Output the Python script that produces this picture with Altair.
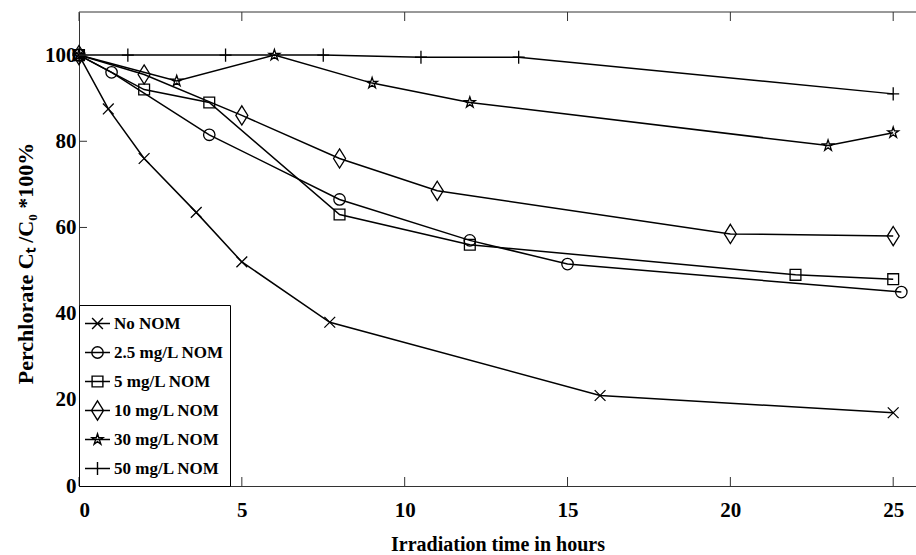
import math
import altair as alt
import pandas as pd

# ---- data: perchlorate remaining (%) vs irradiation time (h) ----
series_names = ["No NOM", "2.5 mg/L NOM", "5 mg/L NOM", "10 mg/L NOM", "30 mg/L NOM", "50 mg/L NOM"]

time_no_nom = [0, 0.9, 2, 3.6, 5, 7.7, 16, 25]
conc_no_nom = [100, 87.5, 76, 63.5, 52, 38, 21, 17]

time_nom_2_5 = [0, 1, 4, 8, 12, 15, 25.25]
conc_nom_2_5 = [100, 96, 81.5, 66.5, 57, 51.5, 45]

time_nom_5 = [0, 2, 4, 8, 12, 22, 25]
conc_nom_5 = [100, 92, 89, 63, 56, 49, 48]

time_nom_10 = [0, 2, 5, 8, 11, 20, 25]
conc_nom_10 = [100, 95.5, 86, 76, 68.5, 58.5, 58]

time_nom_30 = [0, 3, 6, 9, 12, 23, 25]
conc_nom_30 = [100, 94, 100, 93.5, 89, 79, 82]

time_nom_50 = [0, 1.5, 4.5, 7.5, 10.5, 13.5, 25]
conc_nom_50 = [100, 100, 100, 100, 99.5, 99.5, 91]

x_ticks = [0, 5, 10, 15, 20, 25]
y_ticks = [0, 20, 40, 60, 80, 100]

series_data = [
    (time_no_nom, conc_no_nom),
    (time_nom_2_5, conc_nom_2_5),
    (time_nom_5, conc_nom_5),
    (time_nom_10, conc_nom_10),
    (time_nom_30, conc_nom_30),
    (time_nom_50, conc_nom_50),
]

rows = []
for name, (ts, cs) in zip(series_names, series_data):
    for t, c in zip(ts, cs):
        rows.append({"series": name, "t": t, "c": c})
df = pd.DataFrame(rows)

# ---- geometry ----
W, H = 837, 474
X_MAX, Y_MAX = 25.7, 110
FONT = "Liberation Serif"


# ---- open marker outlines (unit coordinates, scaled by r) ----
def f(v):
    return f"{v:.3f}"


def cross(r):
    return f"M{f(-r)},{f(-r)}L{f(r)},{f(r)}M{f(-r)},{f(r)}L{f(r)},{f(-r)}"


def circle(r):
    return (f"M{f(r)},0A{f(r)},{f(r)},0,1,1,{f(-r)},0"
            f"A{f(r)},{f(r)},0,1,1,{f(r)},0Z")


def square(r):
    return f"M{f(-r)},{f(-r)}L{f(r)},{f(-r)}L{f(r)},{f(r)}L{f(-r)},{f(r)}Z"


def diamond(r):
    return f"M0,{f(-1.6 * r)}L{f(r)},0L0,{f(1.6 * r)}L{f(-r)},0Z"


def star(r):
    pts = []
    for i in range(10):
        rad = r if i % 2 == 0 else r * 0.382
        ang = math.radians(-90 + 36 * i)
        pts.append((rad * math.cos(ang), rad * math.sin(ang)))
    return "M" + "L".join(f"{f(x)},{f(y)}" for x, y in pts) + "Z"


def plus(r):
    return f"M{f(-r)},0L{f(r)},0M0,{f(-1.1 * r)}L0,{f(1.1 * r)}"


marker_makers = [(cross, 0.9), (circle, 0.95), (square, 0.9),
                 (diamond, 1.0), (star, 0.95), (plus, 1.0)]

POINT_SIZE = 144      # half-width 6 px per unit
LEGEND_SIZE = 625     # half-width 12.5 px per unit
shrink = 6 / 12.5

data_paths = [mk(r) for mk, r in marker_makers]
# legend symbols: a line segment through the marker; the two bare move-to
# points give every entry the same bounding box so rows are evenly spaced
legend_paths = ["M0,-0.7M0,0.7M-1,0L1,0" + mk(r * shrink) for mk, r in marker_makers]

axis_text = dict(labelFont=FONT, labelFontWeight="bold", labelColor="black",
                 titleFont=FONT, titleFontWeight="bold", titleColor="black",
                 domainColor="#333", domainWidth=1)

x_axis = alt.Axis(values=x_ticks, ticks=False, tickSize=0, grid=False,
                  labelPadding=13, labelFontSize=21, labelAngle=0,
                  title="Irradiation time in hours", titleFontSize=20,
                  titleBaseline="alphabetic", titleY=64, **axis_text)
y_axis = alt.Axis(values=y_ticks, ticks=False, tickSize=0, grid=False,
                  labelPadding=3, labelFontSize=21,
                  title="Perchlorate Cₜ /C₀ *100%", titleFontSize=22,
                  titleAngle=270, titleAlign="center", titleBaseline="alphabetic",
                  titleX=-47, titleY=251, **axis_text)


def x_enc():
    return alt.X("t:Q", scale=alt.Scale(domain=[0, X_MAX], nice=False, zero=False),
                 axis=x_axis)


def y_enc():
    return alt.Y("c:Q", scale=alt.Scale(domain=[0, Y_MAX], nice=False, zero=False),
                 axis=y_axis)


lines = alt.Chart(df).mark_line(color="black", strokeWidth=1.5).encode(
    x=x_enc(), y=y_enc(), detail="series:N", order="t:Q"
)

points = alt.Chart(df).mark_point(
    filled=False, color="black", strokeWidth=1.3, size=POINT_SIZE, opacity=1
).encode(
    x=x_enc(), y=y_enc(),
    shape=alt.Shape("series:N",
                    scale=alt.Scale(domain=series_names, range=data_paths),
                    legend=None),
)

legend_layer = alt.Chart(df).transform_filter("false").mark_point(
    filled=False, color="black"
).encode(
    shape=alt.Shape(
        "series:N",
        scale=alt.Scale(domain=series_names, range=legend_paths),
        legend=alt.Legend(
            title=None, orient="bottom-left", offset=0,
            symbolSize=LEGEND_SIZE, symbolStrokeColor="black",
            symbolFillColor="transparent", symbolStrokeWidth=1.4,
            symbolOpacity=1,
            labelFont=FONT, labelFontWeight="bold", labelFontSize=17,
            labelColor="black", labelOffset=3, labelLimit=300,
            strokeColor="black", fillColor="white", padding=5,
            rowPadding=3, cornerRadius=0,
        ),
    ),
)

xt = pd.DataFrame({"t": x_ticks})
yt = pd.DataFrame({"c": y_ticks})

# inward-pointing ticks on bottom, top and left edges
bottom_ticks = alt.Chart(xt).mark_rule(color="#333", strokeWidth=1).encode(
    x=x_enc(), y=alt.value(H), y2=alt.value(H - 9)
)
top_ticks = alt.Chart(xt).mark_rule(color="#333", strokeWidth=1).encode(
    x=x_enc(), y=alt.value(0), y2=alt.value(9)
)
left_ticks = alt.Chart(yt).mark_rule(color="#333", strokeWidth=1).encode(
    y=y_enc(), x=alt.value(0), x2=alt.value(8)
)
top_frame = alt.Chart(pd.DataFrame({"k": [0]})).mark_rule(color="#333", strokeWidth=1).encode(
    x=alt.value(0), x2=alt.value(W), y=alt.value(0)
)

chart = alt.layer(
    lines, points, legend_layer, bottom_ticks, top_ticks, left_ticks, top_frame
).resolve_scale(shape="independent").properties(
    width=W, height=H,
    background="white",
    autosize=alt.AutoSizeParams(type="none"),
    padding={"left": 79, "top": 12, "right": 0, "bottom": 69},
).configure_view(stroke=None)

chart.save("out.html", embed_options={"renderer": "svg", "actions": False})
